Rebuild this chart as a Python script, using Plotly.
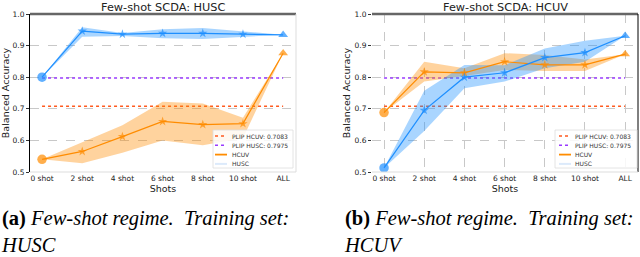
import plotly.graph_objects as go

shots = ["0 shot", "2 shot", "4 shot", "6 shot", "8 shot", "10 shot", "ALL"]
yticks = [0.5, 0.6, 0.7, 0.8, 0.9, 1.0]
ytick_text = ["0.5", "0.6", "0.7", "0.8", "0.9", "1.0"]

plip_hcuv = 0.7083
plip_husc = 0.7975
legend_labels = ["PLIP HCUV: 0.7083", "PLIP HUSC: 0.7975", "HCUV", "HUSC"]

# Panel (a): training set HUSC
a_husc_mean = [0.800, 0.946, 0.936, 0.939, 0.939, 0.936, 0.934]
a_husc_low = [0.800, 0.928, 0.930, 0.923, 0.921, 0.928, 0.934]
a_husc_high = [0.800, 0.958, 0.940, 0.952, 0.956, 0.944, 0.934]
a_hcuv_mean = [0.540, 0.565, 0.612, 0.660, 0.650, 0.653, 0.876]
a_hcuv_low = [0.540, 0.528, 0.561, 0.600, 0.585, 0.607, 0.876]
a_hcuv_high = [0.540, 0.595, 0.648, 0.722, 0.717, 0.672, 0.876]

# Panel (b): training set HCUV
b_husc_mean = [0.513, 0.695, 0.800, 0.814, 0.862, 0.878, 0.931]
b_husc_low = [0.513, 0.630, 0.765, 0.786, 0.828, 0.849, 0.931]
b_husc_high = [0.513, 0.757, 0.839, 0.838, 0.891, 0.915, 0.931]
b_hcuv_mean = [0.688, 0.817, 0.814, 0.849, 0.839, 0.839, 0.873]
b_hcuv_low = [0.688, 0.786, 0.804, 0.823, 0.820, 0.820, 0.873]
b_hcuv_high = [0.688, 0.849, 0.828, 0.876, 0.870, 0.856, 0.873]

BLUE = "#1E8FFF"
ORANGE = "#FF8C00"
BLUE_FILL = "rgba(30,144,255,0.38)"
ORANGE_FILL = "rgba(255,140,0,0.38)"
PLIP_ORANGE = "#FF5A1F"
PLIP_PURPLE = "#9A3BFF"
PALE_BLUE = "#dCEAFB"

W, H = 640, 257


def px(x):
    return x / W


def py(y):
    return 1 - y / H


fig = go.Figure()


def add_panel(xa, ya, husc, hcuv):
    hm, hl, hh = husc
    cm, cl, ch = hcuv
    fig.add_trace(go.Scatter(x=shots, y=[plip_hcuv] * len(shots), mode="lines",
                             line=dict(color=PLIP_ORANGE, width=1.5, dash="dot"),
                             name=legend_labels[0], xaxis=xa, yaxis=ya))
    fig.add_trace(go.Scatter(x=shots, y=[plip_husc] * len(shots), mode="lines",
                             line=dict(color=PLIP_PURPLE, width=1.5, dash="dot"),
                             name=legend_labels[1], xaxis=xa, yaxis=ya))
    fig.add_trace(go.Scatter(x=shots, y=ch, mode="lines", line=dict(width=0, color=ORANGE),
                             xaxis=xa, yaxis=ya, hoverinfo="skip"))
    fig.add_trace(go.Scatter(x=shots, y=cl, mode="lines", line=dict(width=0, color=ORANGE),
                             fill="tonexty", fillcolor=ORANGE_FILL,
                             xaxis=xa, yaxis=ya, hoverinfo="skip"))
    fig.add_trace(go.Scatter(x=shots, y=hh, mode="lines", line=dict(width=0, color=BLUE),
                             xaxis=xa, yaxis=ya, hoverinfo="skip"))
    fig.add_trace(go.Scatter(x=shots, y=hl, mode="lines", line=dict(width=0, color=BLUE),
                             fill="tonexty", fillcolor=BLUE_FILL,
                             xaxis=xa, yaxis=ya, hoverinfo="skip"))
    symbols = ["circle"] + ["star"] * 5 + ["triangle-up"]
    sizes = [9.5] + [7] * 5 + [8.5]
    fig.add_trace(go.Scatter(x=shots, y=cm, mode="lines+markers",
                             line=dict(color=ORANGE, width=1.2),
                             marker=dict(symbol=symbols, size=sizes, color=ORANGE, line=dict(width=0)),
                             name=legend_labels[2], xaxis=xa, yaxis=ya))
    fig.add_trace(go.Scatter(x=shots, y=hm, mode="lines+markers",
                             line=dict(color=BLUE, width=1.2),
                             marker=dict(symbol=symbols, size=sizes, color=BLUE, line=dict(width=0)),
                             name=legend_labels[3], xaxis=xa, yaxis=ya))


add_panel("x", "y", (a_husc_mean, a_husc_low, a_husc_high),
          (a_hcuv_mean, a_hcuv_low, a_hcuv_high))
add_panel("x2", "y2", (b_husc_mean, b_husc_low, b_husc_high),
          (b_hcuv_mean, b_hcuv_low, b_hcuv_high))

pt, pb = 14, 172
yd = [py(pb), py(pt)]
xd1 = [px(30), px(296)]
xd2 = [px(372), px(638)]

tickfont = dict(family="DejaVu Sans", size=7.5, color="#222")
common_x = dict(type="category", categoryorder="array", categoryarray=shots,
                range=[-0.3, 6.32], tickfont=tickfont, ticks="", showline=False,
                zeroline=False, automargin=False,
                title=dict(text="Shots", font=dict(family="DejaVu Sans", size=9.5, color="#222"), standoff=3))
common_y = dict(range=[0.5, 1.0], tickvals=yticks, ticktext=ytick_text, tickfont=tickfont,
                showgrid=True, gridcolor="#c8c8c8", griddash="dash", gridwidth=0.8,
                zeroline=False, ticks="outside", ticklen=3, tickcolor="#333", automargin=False,
                title=dict(text="Balanced Accuracy", font=dict(family="DejaVu Sans", size=9.5, color="#222"),
                           standoff=2))

fig.update_layout(
    width=W, height=H,
    margin=dict(l=0, r=0, t=0, b=0, autoexpand=False),
    paper_bgcolor="white", plot_bgcolor="white",
    showlegend=False,
    xaxis=dict(domain=xd1, anchor="y", showgrid=False, **common_x),
    yaxis=dict(domain=yd, anchor="x", showline=True, linecolor="black", linewidth=1, **common_y),
    xaxis2=dict(domain=xd2, anchor="y2", showgrid=True, gridcolor="#c8c8c8", griddash="dash",
                gridwidth=0.8, **common_x),
    yaxis2=dict(domain=yd, anchor="x2", showline=False, **common_y),
)

# spines
for xr, yr, rc in [("x domain", "y domain", "#dddddd"), ("x2 domain", "y2 domain", "black")]:
    fig.add_shape(type="line", xref=xr, yref=yr, x0=0, x1=1, y0=1, y1=1,
                  line=dict(color="#666666", width=2.5))
    fig.add_shape(type="line", xref=xr, yref=yr, x0=1, x1=1, y0=0, y1=1,
                  line=dict(color=rc, width=1))
    fig.add_shape(type="line", xref=xr, yref=yr, x0=0, x1=1, y0=0, y1=0,
                  line=dict(color="#dddddd", width=1))

# legends (drawn as a small box with samples and labels)
legend_styles = [dict(color=PLIP_ORANGE, width=1.5, dash="dot"),
                 dict(color=PLIP_PURPLE, width=1.5, dash="dot"),
                 dict(color=ORANGE, width=1.8),
                 dict(color=PALE_BLUE, width=2)]
for bx0, bx1, lx0, lx1, tx in [(213, 293, 215, 227, 231), (555, 637, 559, 571, 574)]:
    fig.add_shape(type="rect", xref="paper", yref="paper", x0=px(bx0), x1=px(bx1), y0=py(168), y1=py(130),
                  line=dict(color="#dddddd", width=0.8), fillcolor="rgba(255,255,255,0.85)")
    for i, (lab, st) in enumerate(zip(legend_labels, legend_styles)):
        yy = 136 + i * 9.3
        fig.add_shape(type="line", xref="paper", yref="paper", x0=px(lx0), x1=px(lx1), y0=py(yy), y1=py(yy),
                      line=st)
        fig.add_annotation(x=px(tx), y=py(yy), xref="paper", yref="paper", text=lab, showarrow=False,
                           xanchor="left", yanchor="middle",
                           font=dict(family="DejaVu Sans", size=6, color="#333"), borderpad=0)

# titles
for cx, txt in [((xd1[0] + xd1[1]) / 2, "Few-shot SCDA: HUSC"), ((xd2[0] + xd2[1]) / 2, "Few-shot SCDA: HCUV")]:
    fig.add_annotation(x=cx, y=py(7), xref="paper", yref="paper", text=txt, showarrow=False,
                       font=dict(family="DejaVu Sans", size=11.3, color="#222"), xanchor="center", yanchor="middle")

# captions (two lines in one text block)
cap_font = dict(family="Liberation Serif", size=20.5, color="black")
for x0, lab, ds in [(0, "(a)", "HUSC"), (343, "(b)", "HCUV")]:
    fig.add_annotation(x=px(x0), y=0, xref="paper", yref="paper", xanchor="left", yanchor="bottom",
                       align="left",
                       text="<b>" + lab + "</b> <i>Few-shot regime.&nbsp; Training set:</i><br><i>" + ds + "</i>",
                       showarrow=False, font=cap_font, borderpad=0)

fig.write_html("out.html", config={"displayModeBar": False},
               post_script="document.body.style.margin='0px';")
